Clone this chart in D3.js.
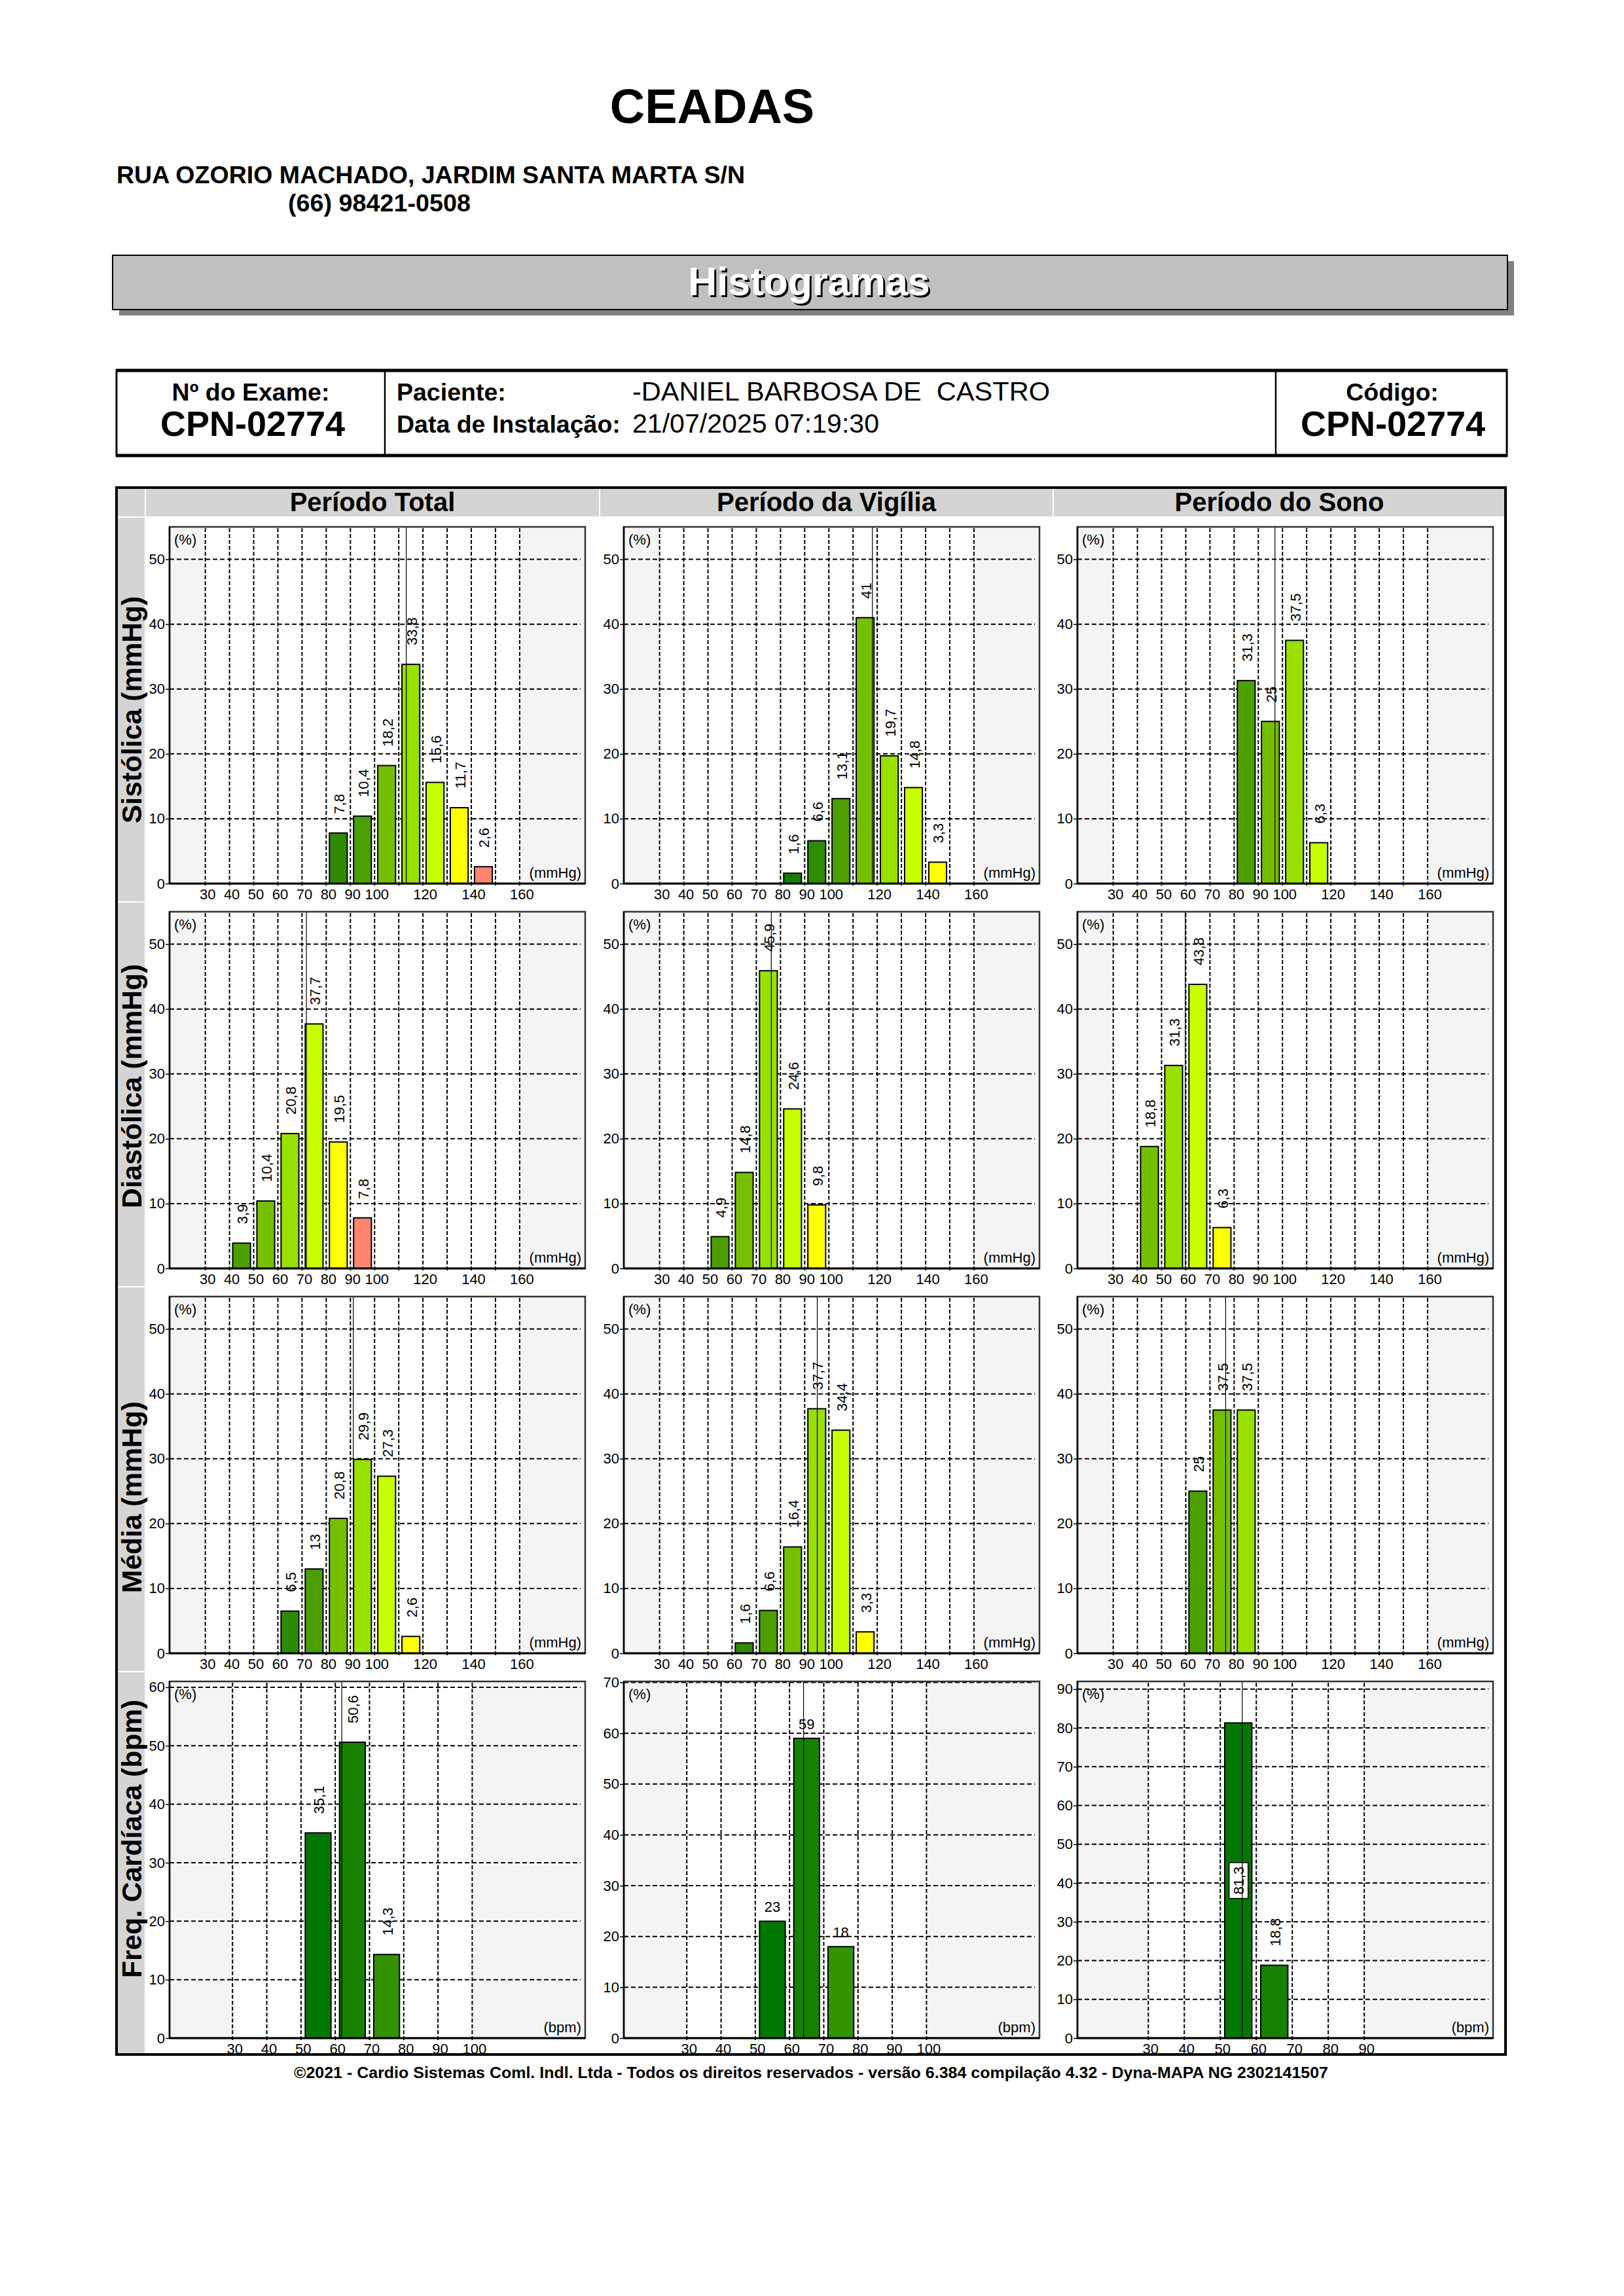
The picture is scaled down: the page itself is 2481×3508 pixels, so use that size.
<!DOCTYPE html>
<html><head><meta charset="utf-8">
<script src="https://cdn.jsdelivr.net/npm/d3@7"></script>
<style>
body{margin:0;background:#fff}
svg{display:block}
text{font-family:"Liberation Sans",Arial,Helvetica,sans-serif;white-space:pre}
</style>
</head><body>
<svg id="c" width="2481" height="3508"></svg>
<script>
// ---------------- DATA ----------------
const clinicName = "CEADAS";
const address = "RUA OZORIO MACHADO, JARDIM SANTA MARTA S/N";
const phone = "(66) 98421-0508";
const bannerTitle = "Histogramas";
const examLabel = "Nº do Exame:";
const examCode = "CPN-02774";
const patientLabel = "Paciente:";
const patientName = "-DANIEL BARBOSA DE  CASTRO";
const installLabel = "Data de Instalação:";
const installDate = "21/07/2025 07:19:30";
const codeLabel = "Código:";
const codeValue = "CPN-02774";
const footerText = "©2021 - Cardio Sistemas Coml. Indl. Ltda - Todos os direitos reservados - versão 6.384 compilação 4.32 - Dyna-MAPA NG 2302141507";

const periods = ["Período Total", "Período da Vigília", "Período do Sono"];
const rowLabels = ["Sistólica (mmHg)", "Diastólica (mmHg)", "Média (mmHg)", "Freq. Cardíaca (bpm)"];
const unitLabels = ["(mmHg)", "(mmHg)", "(mmHg)", "(bpm)"];

// bin start (bin width 10) and percentage per bin, for [Total, Vigília, Sono]
const sisBins   = [[80,90,100,110,120,130,140],[80,90,100,110,120,130,140],[80,90,100,110]];
const sisValues = [[7.8,10.4,18.2,33.8,15.6,11.7,2.6],[1.6,6.6,13.1,41,19.7,14.8,3.3],[31.3,25,37.5,6.3]];
const sisMeans  = [113.1,118.0,96.9];
const sisLimits = [130,140,120];

const diaBins   = [[40,50,60,70,80,90],[50,60,70,80,90],[40,50,60,70]];
const diaValues = [[3.9,10.4,20.8,37.7,19.5,7.8],[4.9,14.8,45.9,24.6,9.8],[18.8,31.3,43.8,6.3]];
const diaMeans  = [71.8,76.2,59.8];
const diaLimits = [80,90,70];

const medBins   = [[60,70,80,90,100,110],[60,70,80,90,100,110],[60,70,80]];
const medValues = [[6.5,13,20.8,29.9,27.3,2.6],[1.6,6.6,16.4,37.7,34.4,3.3],[25,37.5,37.5]];
const medMeans  = [91.2,95.2,76.5];
const medLimits = [110,110,100];

const fcBins    = [[50,60,70],[50,60,70],[50,60]];
const fcValues  = [[35.1,50.6,14.3],[23,59,18],[81.3,18.8]];
const fcMeans   = [61.9,64.1,56.1];

const bpTicks = [30,40,50,60,70,80,90,100,120,140,160];
const fcTicks = [[30,40,50,60,70,80,90,100],[30,40,50,60,70,80,90,100],[30,40,50,60,70,80,90]];
const bpYTicks = [0,10,20,30,40,50];
const fcYTicks = [[0,10,20,30,40,50,60],[0,10,20,30,40,50,60,70],[0,10,20,30,40,50,60,70,80,90]];

// ---------------- STYLE / LAYOUT ----------------
const bpPalette = ["#007800","#117F00","#2E8B00","#4BA000","#74C000","#98E000","#C8FF00","#FFFF00","#FF8570"];
const fcPalette = ["#007800","#168100","#339300"];
const svg = d3.select("#c");
svg.append("rect").attr("width",2481).attr("height",3508).attr("fill","#fff");

function txt(x,y,s,size,opts={}){
  const t = svg.append("text").attr("x",x).attr("y",y).attr("font-size",size).text(s);
  if(opts.bold) t.attr("font-weight","bold");
  if(opts.anchor) t.attr("text-anchor",opts.anchor);
  if(opts.fill) t.attr("fill",opts.fill);
  if(opts.len) t.attr("textLength",opts.len).attr("lengthAdjust","spacingAndGlyphs");
  return t;
}

// header
txt(1088,188,clinicName,74,{bold:true,anchor:"middle"});
txt(178,280,address,37,{bold:true,len:960});
txt(440,323,phone,37,{bold:true,len:279});

// banner
svg.append("rect").attr("x",182).attr("y",399).attr("width",2131).attr("height",83).attr("fill","#808080");
svg.append("rect").attr("x",172).attr("y",390).attr("width",2131).attr("height",83).attr("fill","#C0C0C0").attr("stroke","#000").attr("stroke-width",2);
txt(1239,454,bannerTitle,61,{bold:true,anchor:"middle",fill:"#000"});
txt(1236,451,bannerTitle,61,{bold:true,anchor:"middle",fill:"#fff"});

// info table
svg.append("rect").attr("x",178).attr("y",566).attr("width",2124).attr("height",130).attr("fill","none").attr("stroke","#000").attr("stroke-width",3);
svg.append("line").attr("x1",177).attr("x2",2303).attr("y1",566).attr("y2",566).attr("stroke","#000").attr("stroke-width",5);
svg.append("line").attr("x1",177).attr("x2",2303).attr("y1",696).attr("y2",696).attr("stroke","#000").attr("stroke-width",5);
[588,1949].forEach(x=>svg.append("line").attr("x1",x).attr("x2",x).attr("y1",566).attr("y2",696).attr("stroke","#000").attr("stroke-width",2.5));
txt(383,612,examLabel,37.5,{bold:true,anchor:"middle"});
txt(386,666,examCode,54,{bold:true,anchor:"middle"});
txt(606,612,patientLabel,37.5,{bold:true});
txt(966,612,patientName,41,{len:638});
txt(606,661,installLabel,37.5,{bold:true});
txt(966,661,installDate,41,{len:377});
txt(2127,612,codeLabel,37.5,{bold:true,anchor:"middle"});
txt(2128,666,codeValue,54,{bold:true,anchor:"middle"});

// main frame
const FX0=176, FX1=2302, FY0=743, FY1=3141;
const colLefts=[222,916,1609], colRight=2300;
const rowTop0=790, rowH=588;
svg.append("rect").attr("x",180).attr("y",745).attr("width",41).attr("height",44).attr("fill","#D4D4D4");
colLefts.forEach((cx,i)=>{
  const w=(i<2?colLefts[i+1]:colRight)-cx;
  svg.append("rect").attr("x",cx+1).attr("y",745).attr("width",w-2).attr("height",44).attr("fill","#D4D4D4");
  txt(cx+w/2,781,periods[i],40,{bold:true,anchor:"middle"});
});
rowLabels.forEach((lab,r)=>{
  const top=rowTop0+r*rowH;
  svg.append("rect").attr("x",180).attr("y",top+1).attr("width",41).attr("height",rowH-2).attr("fill","#D4D4D4");
  svg.append("text").attr("transform",`translate(216,${top+468}) rotate(-90)`)
    .attr("font-size",42.5).attr("font-weight","bold").text(lab);
});
svg.append("rect").attr("x",FX0+2).attr("y",FY0+2).attr("width",FX1-FX0-4).attr("height",FY1-FY0-4)
  .attr("fill","none").attr("stroke","#000").attr("stroke-width",4);

// panels
const rows=[
  {bins:sisBins,values:sisValues,means:sisMeans,limits:sisLimits,fc:false},
  {bins:diaBins,values:diaValues,means:diaMeans,limits:diaLimits,fc:false},
  {bins:medBins,values:medValues,means:medMeans,limits:medLimits,fc:false},
  {bins:fcBins,values:fcValues,means:fcMeans,limits:null,fc:true}
];
const W=635, H=545;
const bpDomain=[15.2,187.1];
const fcDomains=[[11.6,133],[11.6,133],[10.3,125.8]];
const fcYMax=[61,70.2,92];
const fmt = v => String(v).replace(".",",");

rows.forEach((row,r)=>{
  for(let c=0;c<3;c++){
    const px=colLefts[c]+37, py=rowTop0+r*rowH+15;
    const g=svg.append("g").attr("transform",`translate(${px},${py})`);
    const xTicks = row.fc?fcTicks[c]:bpTicks;
    const grid = d3.range(xTicks[0], xTicks[xTicks.length-1]+1, 10);
    const x=d3.scaleLinear().domain(row.fc?fcDomains[c]:bpDomain).range([0,W]);
    const yTicks = row.fc?fcYTicks[c]:bpYTicks;
    const y=d3.scaleLinear().domain([0,row.fc?fcYMax[c]:55]).range([H,0]);
    g.append("rect").attr("width",W).attr("height",H).attr("fill","#fff");
    g.append("rect").attr("width",x(grid[0])).attr("height",H).attr("fill","#F4F4F4");
    g.append("rect").attr("x",x(grid[grid.length-1])).attr("width",W-x(grid[grid.length-1])).attr("height",H).attr("fill","#F4F4F4");
    g.selectAll(".hg").data(yTicks.filter(t=>t>0)).join("line")
      .attr("x1",0).attr("x2",W-7).attr("y1",d=>y(d)).attr("y2",d=>y(d))
      .attr("stroke","#000").attr("stroke-width",2).attr("stroke-dasharray","7,4");
    g.selectAll(".vg").data(grid).join("line")
      .attr("x1",d=>x(d)).attr("x2",d=>x(d)).attr("y1",2).attr("y2",H+4)
      .attr("stroke","#000").attr("stroke-width",2).attr("stroke-dasharray","6,3");
    const data=row.bins[c].map((b,i)=>({b,v:row.values[c][i]}));
    const colorOf = d => row.fc ? fcPalette[Math.max(0,Math.min(2,(d.b-50)/10))]
                                : bpPalette[Math.max(0,Math.min(8,7+(d.b-row.limits[c])/10))];
    const bw = x(10)-x(0);
    g.selectAll(".bar").data(data).join("rect")
      .attr("x",d=>x(d.b)+bw*0.105+1).attr("width",bw*0.79-2)
      .attr("y",d=>y(d.v)).attr("height",d=>H-y(d.v))
      .attr("fill",colorOf).attr("stroke","#000").attr("stroke-width",2);
    const horizontal = data.every(d=>Number.isInteger(d.v));
    data.forEach(d=>{
      const cx=x(d.b+5), top=y(d.v);
      if(horizontal){
        g.append("text").attr("x",cx).attr("y",top-14).attr("text-anchor","middle").attr("font-size",22).text(fmt(d.v));
      } else {
        const t=g.append("text").attr("font-size",22).text(fmt(d.v));
        const len=t.node().getComputedTextLength();
        if(top-29-len<4){
          const mid=(top+H)/2;
          t.remove();
          g.append("rect").attr("x",cx-14).attr("y",mid-len/2-6).attr("width",29).attr("height",len+12)
            .attr("fill","#fff").attr("stroke","#000").attr("stroke-width",1.5);
          g.append("text").attr("font-size",22).attr("text-anchor","middle")
            .attr("transform",`translate(${cx+8},${mid}) rotate(-90)`).text(fmt(d.v));
        } else {
          t.attr("transform",`translate(${cx+9},${top-29}) rotate(-90)`);
        }
      }
    });
    g.append("line").attr("x1",x(row.means[c])).attr("x2",x(row.means[c])).attr("y1",0).attr("y2",H)
      .attr("stroke","#000").attr("stroke-width",1.2);
    g.append("rect").attr("width",W).attr("height",H).attr("fill","none").attr("stroke","#333").attr("stroke-width",2.5);
    g.append("line").attr("x1",0).attr("x2",W).attr("y1",H).attr("y2",H).attr("stroke","#000").attr("stroke-width",3);
    g.append("line").attr("x1",0).attr("x2",0).attr("y1",0).attr("y2",H).attr("stroke","#000").attr("stroke-width",2.5);
    g.append("text").attr("x",7).attr("y",27).attr("font-size",22).text("(%)");
    g.append("text").attr("x",W-6).attr("y",H-9).attr("text-anchor","end").attr("font-size",22).text(unitLabels[r]);
    const ya=g.append("g").call(d3.axisLeft(y).tickValues(yTicks).tickSize(6).tickPadding(1).tickFormat(d3.format("d")));
    ya.select(".domain").remove();
    ya.selectAll("line").attr("stroke","#000").attr("stroke-width",1.5);
    ya.selectAll("text").attr("font-size",22).attr("fill","#000").style("font-family",'"Liberation Sans",Arial,sans-serif');
    const xa=g.append("g").attr("transform",`translate(0,${H})`)
      .call(d3.axisBottom(x).tickValues(xTicks).tickSize(0).tickPadding(8).tickFormat(d3.format("d")));
    xa.select(".domain").remove();
    xa.selectAll("text").attr("font-size",22).attr("fill","#000").attr("dx",3).style("font-family",'"Liberation Sans",Arial,sans-serif');
  }
});

// footer
txt(1239,3175,footerText,23,{bold:true,anchor:"middle",len:1580});
</script>
</body></html>
